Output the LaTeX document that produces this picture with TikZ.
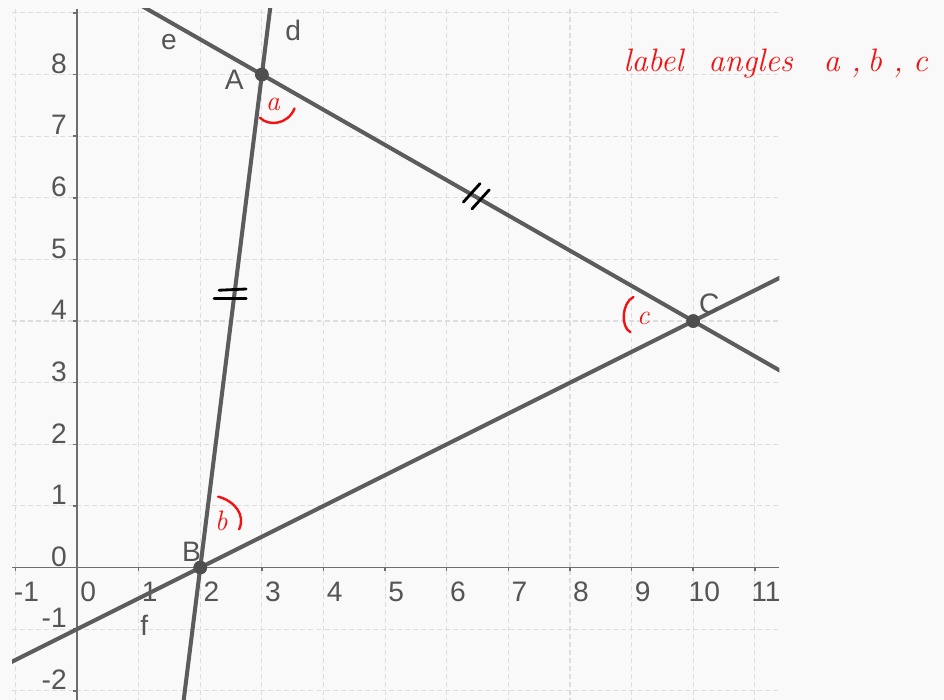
\documentclass[tikz,border=0pt]{standalone}
\usepackage{fontspec}
\newfontfamily\labfont{Liberation Sans}
\usetikzlibrary{calc}
\definecolor{linegray}{HTML}{5C5C5C}
\definecolor{axisgray}{HTML}{6E6E6E}
\definecolor{gridgray}{HTML}{DDDDDD}
\definecolor{labelgray}{HTML}{555555}
\definecolor{dotgray}{HTML}{4E4E4E}
\definecolor{bgcol}{HTML}{F9F9F9}
\definecolor{pen}{HTML}{F21212}
\begin{document}
\begin{tikzpicture}[x=1cm,y=1cm,
  gridline/.style={gridgray, line width=0.5pt, dash pattern=on 2.3pt off 1.4pt},
  axisline/.style={axisgray, line width=0.7pt},
  geoline/.style={linegray, line width=1.85pt},
  ptdot/.style={circle, fill=dotgray, inner sep=0pt, minimum size=0.22cm},
  ticklab/.style={font=\labfont\fontsize{13}{15}\selectfont, text=labelgray, inner sep=0pt},
  hand/.style={pen, line width=1.1pt, line cap=round, line join=round},
  handtext/.style={font=\itshape\fontsize{15}{18}\selectfont\addfontfeatures{FakeBold=1.5}, text=pen, inner sep=0pt},
  handsmall/.style={font=\itshape\fontsize{13}{15}\selectfont\addfontfeatures{FakeBold=1.5}, text=pen, inner sep=0pt},
  congr/.style={black, line width=1.3pt, line cap=round}]
\useasboundingbox (-1.25,-2.15) rectangle (14.07,9.21);
\fill[bgcol] (-1.25,-2.15) rectangle (14.07,9.21);

% grid and axes
\draw[gridline] (-1.055,-2.2) grid (11.4,9.07);
\draw[axisline] (-1.055,0) -- (11.4,0);
\draw[axisline] (0,-2.2) -- (0,9.07);
\foreach \i in {-1,...,11} {
  \draw[axisline] (\i,0) -- (\i,-0.06);
  \node[ticklab, anchor=north] at (\i+0.18,-0.23) {\i};
}
\foreach \j in {-2,...,9} {
  \draw[axisline] (0,\j) -- (-0.06,\j);
}
\foreach \j in {-2,...,8} {
  \node[ticklab, anchor=base east] at (-0.16,\j+0.02) {\j};
}

% points
\node[ptdot] (A) at (3,8) {};
\node[ptdot] (B) at (2,0) {};
\node[ptdot] (C) at (10,4) {};

% lines d, e, f
\begin{scope}
  \clip (-1.055,-2.2) rectangle (11.4,9.07);
  \draw[geoline] ($(A)!-1!(C)$) -- ($(A)!2!(C)$);
  \draw[geoline] ($(B)!-1!(C)$) -- ($(B)!2!(C)$);
  \draw[geoline] ($(B)!-0.5!(A)$) -- ($(B)!1.5!(A)$);
\end{scope}
\node[ptdot] at (A) {};
\node[ptdot] at (B) {};
\node[ptdot] at (C) {};

% labels
\node[ticklab] (lA) at (2.55,7.91) {A};
\node[ticklab] (lB) at (1.86,0.26) {B};
\node[ticklab] (lC) at (10.26,4.28) {C};
\node[ticklab] (ld) at (3.51,8.71) {d};
\node[ticklab] (le) at (1.49,8.52) {e};
\node[ticklab] (lf) at (1.09,-0.93) {f};

% congruence marks
\draw[congr] (2.305,4.50) -- (2.744,4.52);
\draw[congr] (2.224,4.37) -- (2.744,4.37);
\draw[congr] (6.27,5.93) -- (6.54,6.23);
\draw[congr] (6.41,5.82) -- (6.69,6.13);

% red annotations
\draw[hand] (2.97,7.30) .. controls (3.10,7.16) and (3.42,7.18) .. (3.53,7.45);
\node[handsmall] (ha) at (3.18,7.51) {a};
\draw[hand] (2.29,1.15) .. controls (2.56,1.08) and (2.74,0.85) .. (2.63,0.62);
\node[handsmall] (hb) at (2.34,0.75) {b};
\draw[hand] (9.03,4.39) .. controls (8.84,4.30) and (8.82,3.90) .. (8.98,3.82);
\node[handsmall] (hc) at (9.19,4.04) {c};

\node[handtext, anchor=base west] (t1) at (8.86,8.05) {label};
\node[handtext, anchor=base west] (t2) at (10.24,8.05) {angles};
\node[handtext, anchor=base west] (t3) at (12.11,8.05) {a ,};
\node[handtext, anchor=base west] (t4) at (12.82,8.05) {b ,};
\node[handtext, anchor=base west] (t5) at (13.56,8.05) {c};
\end{tikzpicture}
\end{document}
